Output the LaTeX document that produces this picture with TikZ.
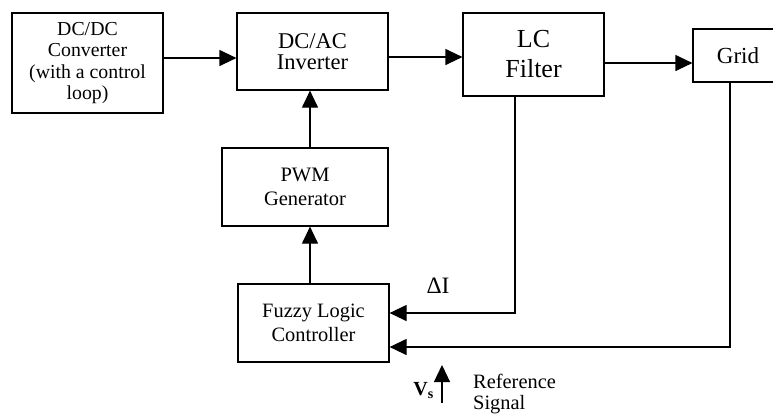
\documentclass[tikz,border=0pt]{standalone}
\usepackage{fontspec}
\setmainfont{Liberation Serif}
\usetikzlibrary{arrows.meta}
\newcommand{\fs}[1]{\fontsize{#1}{#1}\selectfont}
\tikzset{
  blk/.style={draw, line width=1.2pt, rectangle, align=center, inner sep=0pt},
  conn/.style={line width=1.2pt, -{Triangle[length=17pt,width=16pt]}},
  wire/.style={line width=1.2pt},
}
\begin{document}
\begin{tikzpicture}[x=1pt,y=-1pt]
\useasboundingbox (0,0) rectangle (773,416);
\node[blk, minimum width=151pt, minimum height=100pt, font=\fontsize{19.8}{21.5}\selectfont] (dcdc) at (87.5,63) {DC/DC\\Converter\\(with a control\\loop)};
\node[blk, minimum width=151pt, minimum height=77pt, font=\fontsize{22.5}{21}\selectfont] (inv) at (312.5,51.5) {DC/AC\\Inverter};
\node[blk, minimum width=141pt, minimum height=83pt, font=\fontsize{26}{30}\selectfont] (lc) at (533.5,54.5) {LC\\Filter};
\node[blk, minimum width=90pt, minimum height=53pt, font=\fontsize{23}{23}\selectfont] (grid) at (738,55.5) {Grid};
\node[blk, minimum width=166pt, minimum height=78pt, font=\fontsize{20.5}{24}\selectfont] (pwm) at (305,187) {PWM\\Generator};
\node[blk, minimum width=151pt, minimum height=78pt, font=\fontsize{20.4}{24}\selectfont] (flc) at (313.5,323) {Fuzzy Logic\\Controller};
\node[font=\fs{23.5}, anchor=base] (di) at (438,293) {ΔI};
\node[font=\fs{20}, anchor=base east, inner sep=0pt] (vs) at (434,395) {\textbf{V}\textsubscript{\textbf{s}}};
\node[font=\fontsize{20.4}{21}\selectfont, align=left, anchor=north west, inner sep=0pt] (ref) at (473,374) {Reference\\Signal};
\coordinate (vsb) at (442,403);
\coordinate (vst) at (442,365);
\coordinate (c1) at (515,313);
\coordinate (c2) at (730,347);

\draw[conn] (dcdc.east |- 0,58) -- (inv.west |- 0,58);
\draw[conn] (inv.east |- 0,57) -- (lc.west |- 0,57);
\draw[conn] (lc.east |- 0,63) -- (grid.west |- 0,63);
\draw[conn] (pwm.north -| 310,0) -- (inv.south -| 310,0);
\draw[conn] (flc.north -| 310,0) -- (pwm.south -| 310,0);
\draw[conn] (lc.south -| c1) -- (c1) -- (flc.east |- c1);
\draw[conn] (grid.south -| c2) -- (c2) -- (flc.east |- c2);
\draw[conn] (vsb) -- (vst);
\end{tikzpicture}
\end{document}
